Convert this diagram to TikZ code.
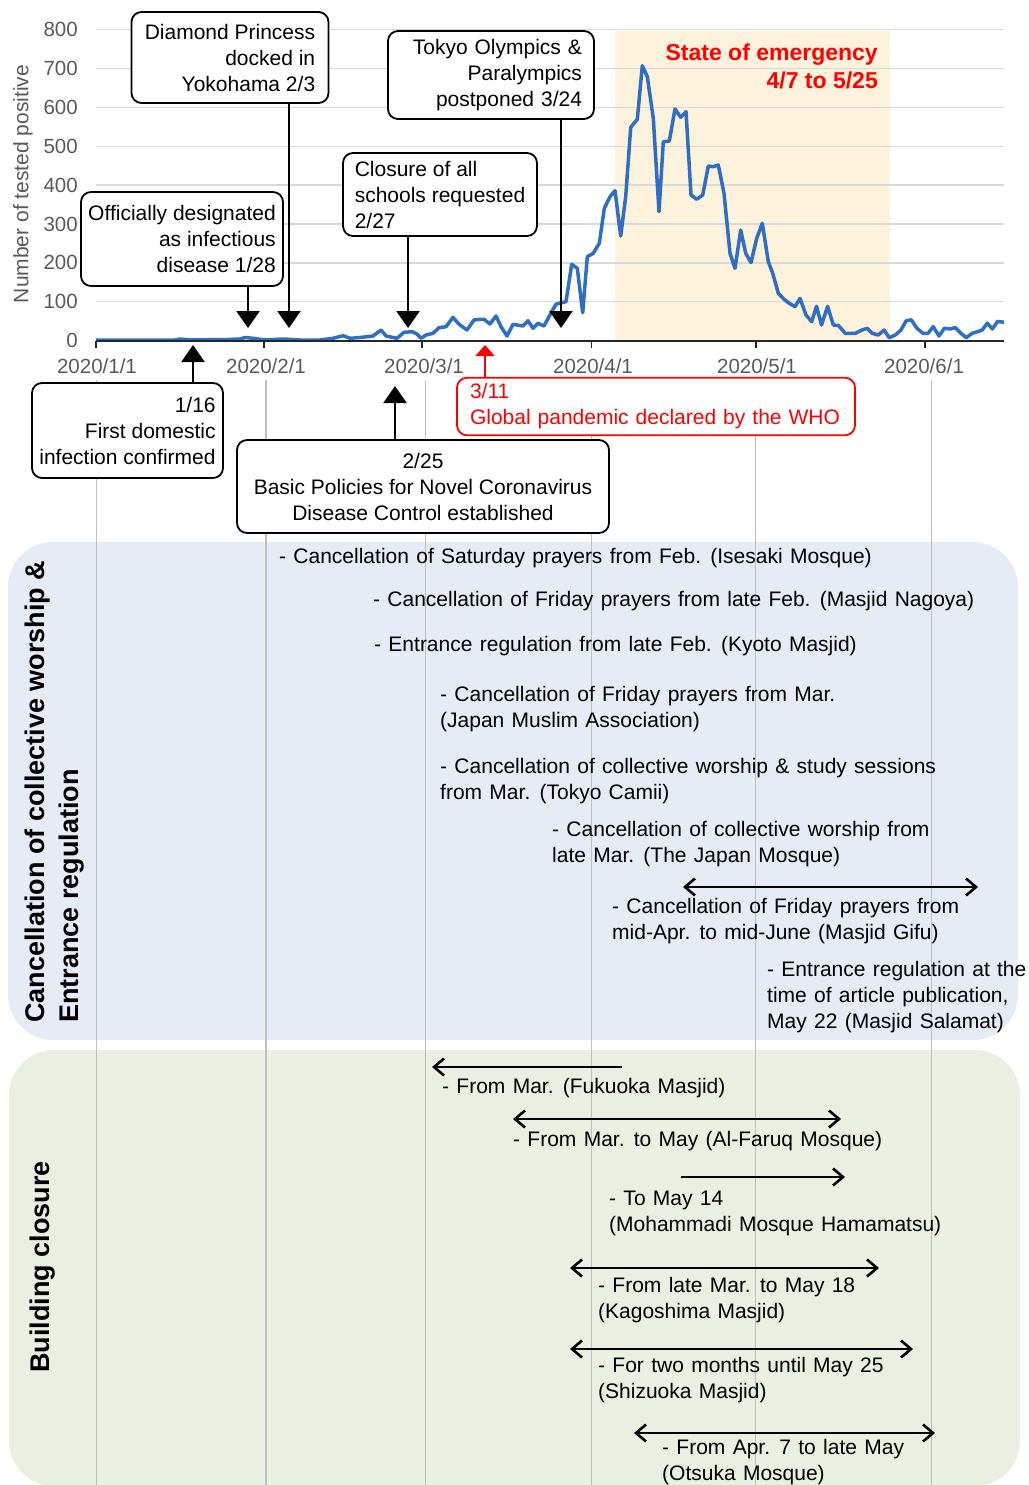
\documentclass[tikz,border=0pt]{standalone}
\usepackage{fontspec}
\setmainfont{Liberation Sans}
\usetikzlibrary{arrows.meta}
\definecolor{curve-blue}{HTML}{2F6EC2}
\definecolor{grid-gray}{HTML}{D9D9D9}
\definecolor{label-gray}{HTML}{595959}
\definecolor{axis-gray}{HTML}{262626}
\definecolor{month-gray}{HTML}{BFBFBF}
\definecolor{emergency-bg}{HTML}{FDF2DC}
\definecolor{panel-blue}{HTML}{E6ECF6}
\definecolor{panel-green}{HTML}{EBEFE1}
\definecolor{alert-red}{HTML}{FF0000}
\newcommand{\itemfont}{\fontsize{21}{26}\selectfont\spaceskip=7.3pt plus 1pt minus 1pt\relax}

\begin{document}
\begin{tikzpicture}[x=1pt, y=-1pt,
      every node/.style={font=\fontsize{21}{26}\selectfont},
      callout/.style={draw=black, line width=1.8pt, rounded corners=10pt,
                      fill=white, inner ysep=6pt},
      callarrow/.style={line width=2.2pt, ->, >={Triangle[length=17pt,width=23pt]}},
      period/.style={line width=2.6pt, >={Straight Barb[length=10pt,width=17pt]}},
      item/.style={anchor=west, align=left, inner sep=0pt, font=\itemfont},
      ticklabel/.style={text=label-gray, inner sep=0pt,
                        font=\fontsize{20.5}{24}\selectfont},
      gridline/.style={draw=grid-gray, line width=1.4pt},
      monthline/.style={draw=month-gray, line width=1.4pt},
      paneltitle/.style={rotate=90, align=left, inner sep=0pt,
                         font=\bfseries\fontsize{27}{34}\selectfont}]
    \useasboundingbox (0,0) rectangle (1028,1485);

    % state of emergency background
    \fill[emergency-bg] (615,31) rectangle (890,340.5);

    % grid and y labels
    \draw[gridline] (96,301.65) -- (1004,301.65);
    \draw[gridline] (96,262.8)  -- (1004,262.8);
    \draw[gridline] (96,223.95) -- (1004,223.95);
    \draw[gridline] (96,185.1)  -- (1004,185.1);
    \draw[gridline] (96,146.25) -- (1004,146.25);
    \draw[gridline] (96,107.4)  -- (1004,107.4);
    \draw[gridline] (96,68.55)  -- (1004,68.55);
    \draw[gridline] (96,29.7)   -- (1004,29.7);
    \node[ticklabel, anchor=east] (Y0) at (78,340.5) {0};
    \node[ticklabel, anchor=east] (Y1) at (78,301.65) {100};
    \node[ticklabel, anchor=east] (Y2) at (78,262.8) {200};
    \node[ticklabel, anchor=east] (Y3) at (78,223.95) {300};
    \node[ticklabel, anchor=east] (Y4) at (78,185.1) {400};
    \node[ticklabel, anchor=east] (Y5) at (78,146.25) {500};
    \node[ticklabel, anchor=east] (Y6) at (78,107.4) {600};
    \node[ticklabel, anchor=east] (Y7) at (78,68.55) {700};
    \node[ticklabel, anchor=east] (Y8) at (78,29.7) {800};
    \node[ticklabel, rotate=90, font=\fontsize{21}{26}\selectfont] (YT) at (23,184)
         {Number of tested positive};

    % daily positives
    \draw[curve-blue, line width=3.5pt, line join=round] plot coordinates {
      (96,340) (175,340) (180,339) (190,340) (227,339.5) (240,339) (245,337.5)
      (255,338.5) (265,340) (283,339) (300,340) (320,340) (333,338.3)
      (343,335.7) (350,338.3) (362,337.3) (373,336) (381,330) (386,336)
      (397,338.3) (404,332.3) (412,331.7) (417,334) (421,338.3) (426,335)
      (433,333.3) (439,327.7) (446,326.7) (453,317.3) (459,324.3) (467,330)
      (474,320) (480,319.3) (484,319.3) (490,324) (496,316) (501,326.7)
      (507,336) (513,324.3) (523,326) (528,320.7) (533,328.3) (538,323.3)
      (544,326) (553,309.3) (556,304.3) (560,303) (566,301.7) (571.7,264.3)
      (577.3,268.3) (582.7,312.7) (587.3,256.7) (593.3,253.3) (599.3,243.3)
      (604.3,208.3) (610,196.7) (615,190.7) (620.7,236) (625.7,196.7)
      (630.7,127.3) (637.3,119.3) (642.3,65.7) (647.3,76.7) (653.3,118.3)
      (659,211.7) (663.3,141.7) (669.3,141) (675,109) (680.7,117.3)
      (686,111.7) (691,195) (696.7,199.3) (702.7,195) (708.3,166)
      (713.3,166.7) (718.3,165) (724,193.3) (730,253.3) (735,268.3)
      (740.7,230) (745.7,253.3) (751,262.7) (756.7,238.3) (762.3,223.3)
      (768.3,261.7) (772.7,273.3) (778.3,293.3) (784,299.3) (789.3,303.3)
      (795,306.7) (800,298.3) (806,315) (811.7,321.7) (816.5,306.3)
      (821.5,325) (827.6,306.3) (833.3,325) (838.4,325.5) (845.2,333.3)
      (855.3,333.3) (862.1,330) (867.2,328.3) (872.2,333.3) (878.3,335)
      (884.1,330) (889.2,337.7) (895.3,335) (901,330) (906.1,320.8)
      (911.2,319.8) (916.9,328.3) (923,333.3) (928.1,333.3) (933.2,326.6)
      (939,336) (944.3,328.3) (950.1,329) (955.2,327.6) (961,333.3)
      (966.3,337.7) (972.1,333.3) (977.8,331.6) (982.2,330) (987.3,323.2)
      (992.4,329) (997.5,321.5) (1004,322.2)};

    % x axis
    \draw[axis-gray, line width=1.8pt] (96,341) -- (1004,341);
    \draw[axis-gray, line width=1.6pt] (96,341) -- (96,348);
    \draw[axis-gray, line width=1.6pt] (264,341) -- (264,348);
    \draw[axis-gray, line width=1.6pt] (422,341) -- (422,348);
    \draw[axis-gray, line width=1.6pt] (591.5,341) -- (591.5,348);
    \draw[axis-gray, line width=1.6pt] (756,341) -- (756,348);
    \draw[axis-gray, line width=1.6pt] (925,341) -- (925,348);
    \node[ticklabel] (M1) at (97,366) {2020/1/1};
    \node[ticklabel] (M2) at (266,366) {2020/2/1};
    \node[ticklabel] (M3) at (424,366) {2020/3/1};
    \node[ticklabel] (M4) at (593,366) {2020/4/1};
    \node[ticklabel] (M5) at (757,366) {2020/5/1};
    \node[ticklabel] (M6) at (924,366) {2020/6/1};

    % panels
    \fill[panel-blue, rounded corners=45pt] (8,542) rectangle (1018,1040);
    \fill[panel-green, rounded corners=45pt] (9,1050) rectangle (1020,1486);

    % month lines
    \draw[monthline] (96.5,380) -- (96.5,1485);
    \draw[monthline] (266,380) -- (266,1485);
    \draw[monthline] (425.5,380) -- (425.5,1485);
    \draw[monthline] (591.5,380) -- (591.5,1485);
    \draw[monthline] (755.5,380) -- (755.5,1485);
    \draw[monthline] (931.5,380) -- (931.5,1485);

    % events
    \node[callout, minimum width=197pt, minimum height=91pt,
          align=right] (DP) at (230,57.5)
         {Diamond Princess\\docked in\\Yokohama 2/3};
    \node[callout, minimum width=202pt, minimum height=94pt,
          inner xsep=7pt, align=right] (OD) at (182,239)
         {Officially designated\\as infectious\\disease 1/28};
    \node[callout, minimum width=194pt, minimum height=83pt,
          align=left] (CS) at (440,194.5)
         {Closure of all\\schools requested\\2/27};
    \node[callout, minimum width=206pt, minimum height=88pt, text width=182pt,
          inner xsep=12pt, align=right] (TO) at (491,75)
         {Tokyo Olympics \&\\Paralympics\\postponed 3/24};
    \node[callout, minimum width=191pt, minimum height=95pt,
          inner xsep=7pt, align=right] (FD) at (127.5,430.5)
         {1/16\\First domestic\\infection confirmed};
    \node[callout, minimum width=372pt, minimum height=93pt,
          inner xsep=8pt, align=center] (BP) at (423,486.5)
         {2/25\\Basic Policies for Novel Coronavirus\\Disease Control established};
    \node[callout, draw=alert-red, text=alert-red, minimum width=398pt,
          minimum height=57pt, text width=372pt, inner xsep=13pt,
          align=left] (WHO) at (656,406.5)
         {3/11\\Global pandemic declared by the WHO};

    \coordinate (DPtip) at (289,328);
    \coordinate (ODtip) at (248,328);
    \coordinate (CStip) at (408,328);
    \coordinate (TOtip) at (561,328);
    \coordinate (FDtip) at (193,345);
    \coordinate (BPtip) at (395,386);
    \coordinate (WHOtip) at (485,345);
    \draw[callarrow] (DP.south -| DPtip) -- (DPtip);
    \draw[callarrow] (OD.south -| ODtip) -- (ODtip);
    \draw[callarrow] (CS.south -| CStip) -- (CStip);
    \draw[callarrow] (TO.south -| TOtip) -- (TOtip);
    \draw[callarrow] (FD.north -| FDtip) -- (FDtip);
    \draw[callarrow] (BP.north -| BPtip) -- (BPtip);
    \draw[alert-red, line width=1.8pt, -{Triangle[length=11pt,width=19pt]}]
         (WHO.north -| WHOtip) -- (WHOtip);

    \node[text=alert-red, align=right, anchor=east, inner sep=0pt,
          font=\bfseries\fontsize{23}{28}\selectfont] (SOE) at (878,66)
         {State of emergency\\4/7 to 5/25};

    % collective worship & entrance regulation
    \node[paneltitle, anchor=west] (CW) at (55,1023)
         {Cancellation of collective worship \&\\Entrance regulation};
    \node[item] (isesaki) at (279,558)
         {- Cancellation of Saturday prayers from Feb. (Isesaki Mosque)};
    \node[item] (nagoya) at (373,601)
         {- Cancellation of Friday prayers from late Feb. (Masjid Nagoya)};
    \node[item] (kyoto) at (374,646)
         {- Entrance regulation from late Feb. (Kyoto Masjid)};
    \node[item] (jma) at (440,709)
         {- Cancellation of Friday prayers from Mar.\\(Japan Muslim Association)};
    \node[item] (camii) at (440,781)
         {- Cancellation of collective worship \& study sessions\\from Mar. (Tokyo Camii)};
    \node[item] (jmosque) at (552,844)
         {- Cancellation of collective worship from\\late Mar. (The Japan Mosque)};
    \node[item] (gifu) at (612,921)
         {- Cancellation of Friday prayers from\\mid-Apr. to mid-June (Masjid Gifu)};
    \node[item] (salamat) at (767,997)
         {- Entrance regulation at the\\time of article publication,\\May 22 (Masjid Salamat)};
    \coordinate (gifuL) at (683,887);
    \coordinate (gifuR) at (978,887);
    \draw[period, <->] (gifuL) -- (gifuR);

    % building closure
    \node[paneltitle] (BC) at (43,1267) {Building closure};
    \node[item] (fukuoka) at (442,1088) {- From Mar. (Fukuoka Masjid)};
    \node[item] (faruq) at (513,1141) {- From Mar. to May (Al-Faruq Mosque)};
    \node[item] (hamamatsu) at (609,1213)
         {- To May 14\\(Mohammadi Mosque Hamamatsu)};
    \node[item] (kagoshima) at (598,1300)
         {- From late Mar. to May 18\\(Kagoshima Masjid)};
    \node[item] (shizuoka) at (598,1380)
         {- For two months until May 25\\(Shizuoka Masjid)};
    \node[item] (otsuka) at (662,1462)
         {- From Apr. 7 to late May\\(Otsuka Mosque)};
    \coordinate (fukuokaR) at (622,1067);
    \coordinate (fukuokaL) at (432,1067);
    \coordinate (faruqL) at (513,1119);
    \coordinate (faruqR) at (841,1119);
    \coordinate (hamamatsuL) at (681,1177);
    \coordinate (hamamatsuR) at (845,1177);
    \coordinate (kagoshimaL) at (570,1268);
    \coordinate (kagoshimaR) at (879,1268);
    \coordinate (shizuokaL) at (570,1349);
    \coordinate (shizuokaR) at (913,1349);
    \coordinate (otsukaL) at (634,1433);
    \coordinate (otsukaR) at (935,1433);
    \draw[period, ->] (fukuokaR) -- (fukuokaL);
    \draw[period, <->] (faruqL) -- (faruqR);
    \draw[period, ->] (hamamatsuL) -- (hamamatsuR);
    \draw[period, <->] (kagoshimaL) -- (kagoshimaR);
    \draw[period, <->] (shizuokaL) -- (shizuokaR);
    \draw[period, <->] (otsukaL) -- (otsukaR);
  \end{tikzpicture}
\end{document}
